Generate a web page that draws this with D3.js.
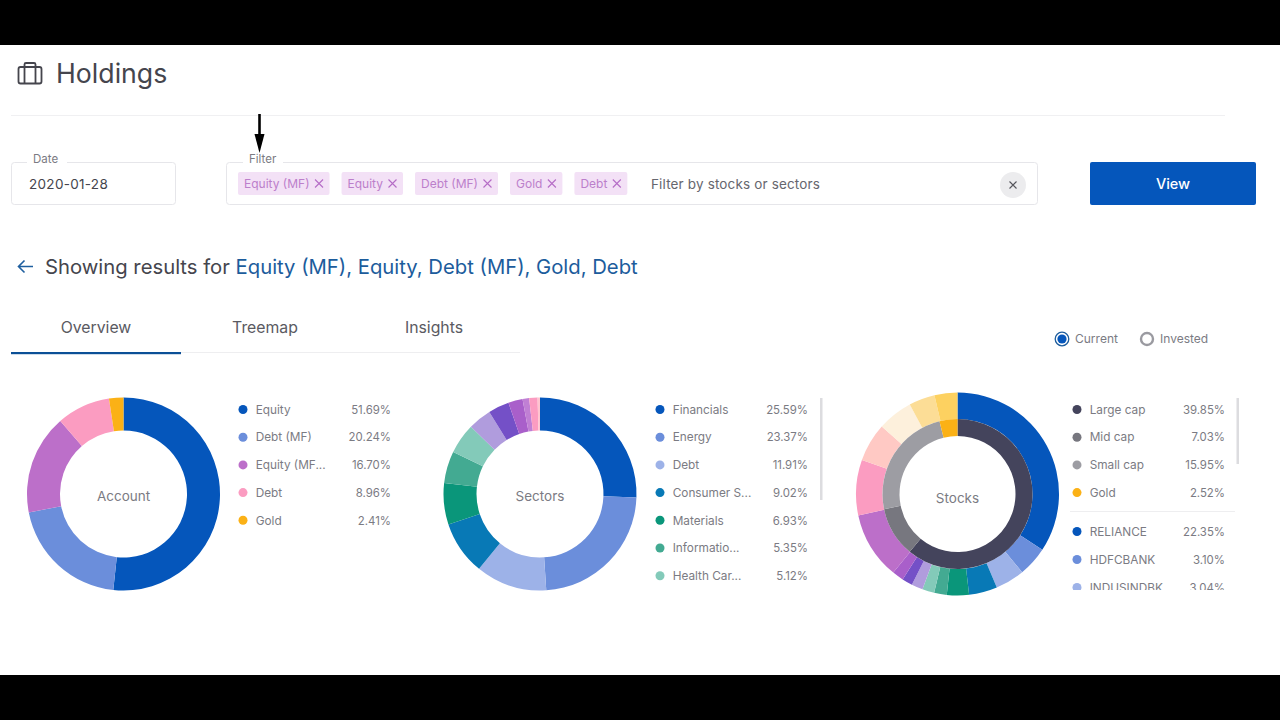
<!DOCTYPE html>
<html>
<head>
<meta charset="utf-8">
<title>Holdings</title>
<script src="https://cdnjs.cloudflare.com/ajax/libs/d3/7.8.5/d3.min.js"></script>
<style>
  html, body { margin: 0; padding: 0; background: #000; }
  svg { display: block; }
  text { font-family: Inter, "Noto Sans", sans-serif; }
</style>
</head>
<body>
<div id="chart"></div>
<script>
// account donut
const accountLabels = ['Equity', 'Debt (MF)', 'Equity (MF...', 'Debt', 'Gold'];
const accountValues = [51.69, 20.24, 16.70, 8.96, 2.41];
const accountColors = ['#0556bb', '#6b8edb', '#bc6fc9', '#fb9cc1', '#fbb116'];

// sectors donut, the last six are behind the legend scroll so estimated from the arc
const sectorLabels = ['Financials', 'Energy', 'Debt', 'Consumer S...', 'Materials', 'Informatio...', 'Health Car...'];
const sectorValues = [25.59, 23.37, 11.91, 9.02, 6.93, 5.35, 5.12, 3.9, 3.5, 2.4, 1.1, 1.4, 0.4];
const sectorColors = ['#0556bb', '#6b8edb', '#9db2e8', '#0879b6', '#0a967a', '#43aa92', '#83cab9',
  '#b09cdd', '#7450c7', '#a95fca', '#c07fd4', '#fb9cc1', '#ffc4cf'];

// stocks donut
const capLabels = ['Large cap', 'Mid cap', 'Small cap', 'Gold'];
const capValues = [39.85, 7.03, 15.95, 2.52];
const capColors = ['#44445c', '#77777f', '#9d9da3', '#fbb116'];

const stockLabels = ['RELIANCE', 'HDFCBANK', 'INDUSINDBK'];
const stockValues = [22.35, 3.10, 3.04, 2.94, 2.29, 1.31, 1.25, 1.18, 1.09, 1.18, 6.99, 5.77, 4.00, 3.67, 2.70, 2.38];
const stockColors = ['#0556bb', '#6b8edb', '#9db2e8', '#0879b6', '#0a967a', '#43aa92', '#83cab9',
  '#b09cdd', '#7450c7', '#a95fca', '#bc6fc9', '#fb9cc1', '#ffc9c4', '#fdf0dc', '#fcdd96', '#fdd160'];

const filterChips = ['Equity (MF)', 'Equity', 'Debt (MF)', 'Gold', 'Debt'];
const tabLabels = ['Overview', 'Treemap', 'Insights'];

const textDark = '#45454d';
const textGrey = '#7b7b83';
const lineGrey = '#e6e6ea';
const blue = '#0556bb';

const svg = d3.select('#chart').append('svg').attr('width', 1280).attr('height', 720);

svg.append('rect').attr('width', 1280).attr('height', 720).attr('fill', '#000');
svg.append('rect').attr('y', 45).attr('width', 1280).attr('height', 630).attr('fill', '#fff');

function addText(parent, x, y, str, size, color, anchor) {
    return parent.append('text')
        .attr('x', x)
        .attr('y', y)
        .attr('font-size', size)
        .attr('fill', color)
        .attr('text-anchor', anchor || 'start')
        .text(str);
}

function addBox(x, y, w, h) {
    svg.append('rect')
        .attr('x', x + 0.5).attr('y', y + 0.5)
        .attr('width', w).attr('height', h)
        .attr('rx', 3)
        .attr('fill', '#fff')
        .attr('stroke', lineGrey);
}

// ---- header
const icon = svg.append('g').attr('fill', 'none').attr('stroke', '#45454d').attr('stroke-width', 1.8);
icon.append('rect').attr('x', 18.5).attr('y', 67).attr('width', 23).attr('height', 16.5).attr('rx', 2);
icon.append('path').attr('d', 'M24.5 67V64.5a1.5 1.5 0 0 1 1.5-1.5h8a1.5 1.5 0 0 1 1.5 1.5V67M24.5 67V83.5M35.5 67V83.5');
addText(svg, 56, 83, 'Holdings', 26.7, textDark).attr('font-weight', 400);
svg.append('line').attr('x1', 11).attr('x2', 1225).attr('y1', 115.5).attr('y2', 115.5).attr('stroke', '#f0f0f2');

// arrow annotation
svg.append('line').attr('x1', 259.5).attr('x2', 259.5).attr('y1', 114).attr('y2', 138).attr('stroke', '#000').attr('stroke-width', 2.6);
svg.append('path').attr('d', 'M254.5 134H264.5L259.5 153Z').attr('fill', '#000');

// ---- filter row
addBox(11, 162, 164, 42);
svg.append('rect').attr('x', 27).attr('y', 158).attr('width', 40).attr('height', 8).attr('fill', '#fff');
addText(svg, 33, 163, 'Date', 11.5, textGrey);
addText(svg, 29, 189, '2020-01-28', 13.5, textDark).attr('letter-spacing', 0.3);

addBox(226, 162, 811, 42);
svg.append('rect').attr('x', 243).attr('y', 158).attr('width', 40).attr('height', 8).attr('fill', '#fff');
addText(svg, 249, 163, 'Filter', 11.5, textGrey);

let chipX = 238;
filterChips.forEach(chip => {
    const g = svg.append('g');
    const bg = g.append('rect').attr('x', chipX).attr('y', 172).attr('height', 23).attr('rx', 2).attr('fill', '#f3e1f6');
    const label = addText(g, chipX + 6, 188, chip, 12, '#bc7fcb');
    const w = label.node().getComputedTextLength();
    const cx = chipX + 6 + w + 9.5;
    g.append('path')
        .attr('d', `M${cx - 4} ${183.5 - 4}L${cx + 4} ${183.5 + 4}M${cx + 4} ${183.5 - 4}L${cx - 4} ${183.5 + 4}`)
        .attr('stroke', '#b56cc6').attr('stroke-width', 1.1);
    const chipW = w + 6 + 20;
    bg.attr('width', chipW);
    chipX += chipW + 12;
});

addText(svg, 651, 189, 'Filter by stocks or sectors', 13.5, '#66666e').attr('letter-spacing', 0.15);
svg.append('circle').attr('cx', 1013).attr('cy', 185).attr('r', 13).attr('fill', '#ececee');
svg.append('path').attr('d', 'M1009.5 181.5L1016.5 188.5M1016.5 181.5L1009.5 188.5').attr('stroke', '#55555c').attr('stroke-width', 1.1);

svg.append('rect').attr('x', 1090).attr('y', 162).attr('width', 166).attr('height', 43).attr('rx', 2).attr('fill', blue);
addText(svg, 1173, 189, 'View', 14.5, '#fff', 'middle').attr('font-weight', 500);

// ---- results line
svg.append('path')
    .attr('d', 'M33 266.5H18.5M24.5 260.5L18.5 266.5L24.5 272.5')
    .attr('fill', 'none').attr('stroke', '#1f5f9f').attr('stroke-width', 1.6);
const results = addText(svg, 45, 274, '', 20.27, textDark);
results.append('tspan').text('Showing results for ');
results.append('tspan').attr('fill', '#1c5c9c').text(filterChips.join(', '));

// ---- tabs
const tabX = d3.scalePoint().domain(tabLabels).range([96, 434]);
tabLabels.forEach(t => addText(svg, tabX(t), 333, t, 15.8, '#5a5a62', 'middle'));
svg.append('line').attr('x1', 11).attr('x2', 520).attr('y1', 352.5).attr('y2', 352.5).attr('stroke', '#eeeef0');
svg.append('rect').attr('x', 11).attr('y', 352).attr('width', 170).attr('height', 2.2).attr('fill', '#0b4f96');

// ---- radio
svg.append('circle').attr('cx', 1062).attr('cy', 339).attr('r', 6.8).attr('fill', '#fff').attr('stroke', '#1c5c9c').attr('stroke-width', 1.3);
svg.append('circle').attr('cx', 1062).attr('cy', 339).attr('r', 4.6).attr('fill', blue);
addText(svg, 1075, 343, 'Current', 12, textGrey);
svg.append('circle').attr('cx', 1147).attr('cy', 339).attr('r', 6).attr('fill', '#fff').attr('stroke', '#9a9aa0').attr('stroke-width', 2.4);
addText(svg, 1160, 343, 'Invested', 12, textGrey);

// ---- donuts
function drawRing(cx, cy, inner, outer, values, colors) {
    const pie = d3.pie().sort(null)(values);
    const arc = d3.arc().innerRadius(inner).outerRadius(outer);
    svg.append('g')
        .attr('transform', `translate(${cx},${cy})`)
        .selectAll('path')
        .data(pie)
        .join('path')
        .attr('d', arc)
        .attr('fill', (d, i) => colors[i]);
}

const rowY = d3.scaleLinear().domain([0, 1]).range([409.5, 437.2]);

function drawLegend(parent, dotX, valueRight, labels, values, colors, yOf) {
    const rows = parent.selectAll(null)
        .data(labels)
        .enter()
        .append('g');
    rows.append('circle')
        .attr('cx', dotX)
        .attr('cy', (d, i) => yOf(i))
        .attr('r', 4.5)
        .attr('fill', (d, i) => colors[i]);
    rows.append('text')
        .attr('x', dotX + 12.7)
        .attr('y', (d, i) => yOf(i) + 4.2)
        .attr('font-size', 11.8)
        .attr('fill', textGrey)
        .text(d => d);
    rows.append('text')
        .attr('x', valueRight)
        .attr('y', (d, i) => yOf(i) + 4.2)
        .attr('font-size', 11.4)
        .attr('fill', textGrey)
        .attr('text-anchor', 'end')
        .text((d, i) => values[i].toFixed(2) + '%');
}

// Account
drawRing(123.5, 494, 63.5, 96.5, accountValues, accountColors);
addText(svg, 123.5, 500.5, 'Account', 13.5, textGrey, 'middle');
drawLegend(svg, 243, 391, accountLabels, accountValues, accountColors, rowY);

// Sectors
drawRing(540, 494, 63.5, 96.5, sectorValues, sectorColors);
addText(svg, 540, 500.5, 'Sectors', 13.5, textGrey, 'middle');
drawLegend(svg, 660, 808, sectorLabels, sectorValues, sectorColors, rowY);
svg.append('rect').attr('x', 820).attr('y', 398).attr('width', 2.5).attr('height', 102).attr('fill', '#dcdcdf');

// Stocks
drawRing(957.5, 494, 75, 101.5, stockValues, stockColors);
drawRing(957.5, 494, 58, 75, capValues, capColors);
addText(svg, 957.5, 502.5, 'Stocks', 13.5, textGrey, 'middle');

svg.append('clipPath').attr('id', 'stockClip')
    .append('rect').attr('x', 1060).attr('y', 395).attr('width', 175).attr('height', 195);
const stockLegend = svg.append('g').attr('clip-path', 'url(#stockClip)');
drawLegend(stockLegend, 1077, 1225, capLabels, capValues, capColors, rowY);
stockLegend.append('line').attr('x1', 1070).attr('x2', 1236).attr('y1', 511.5).attr('y2', 511.5).attr('stroke', '#eeeef0');
const stockRowY = d3.scaleLinear().domain([0, 1]).range([531.5, 559.5]);
drawLegend(stockLegend, 1077, 1225, stockLabels, stockValues, stockColors, stockRowY);
svg.append('rect').attr('x', 1236.5).attr('y', 398).attr('width', 2.5).attr('height', 66).attr('fill', '#dcdcdf');
</script>
</body>
</html>
